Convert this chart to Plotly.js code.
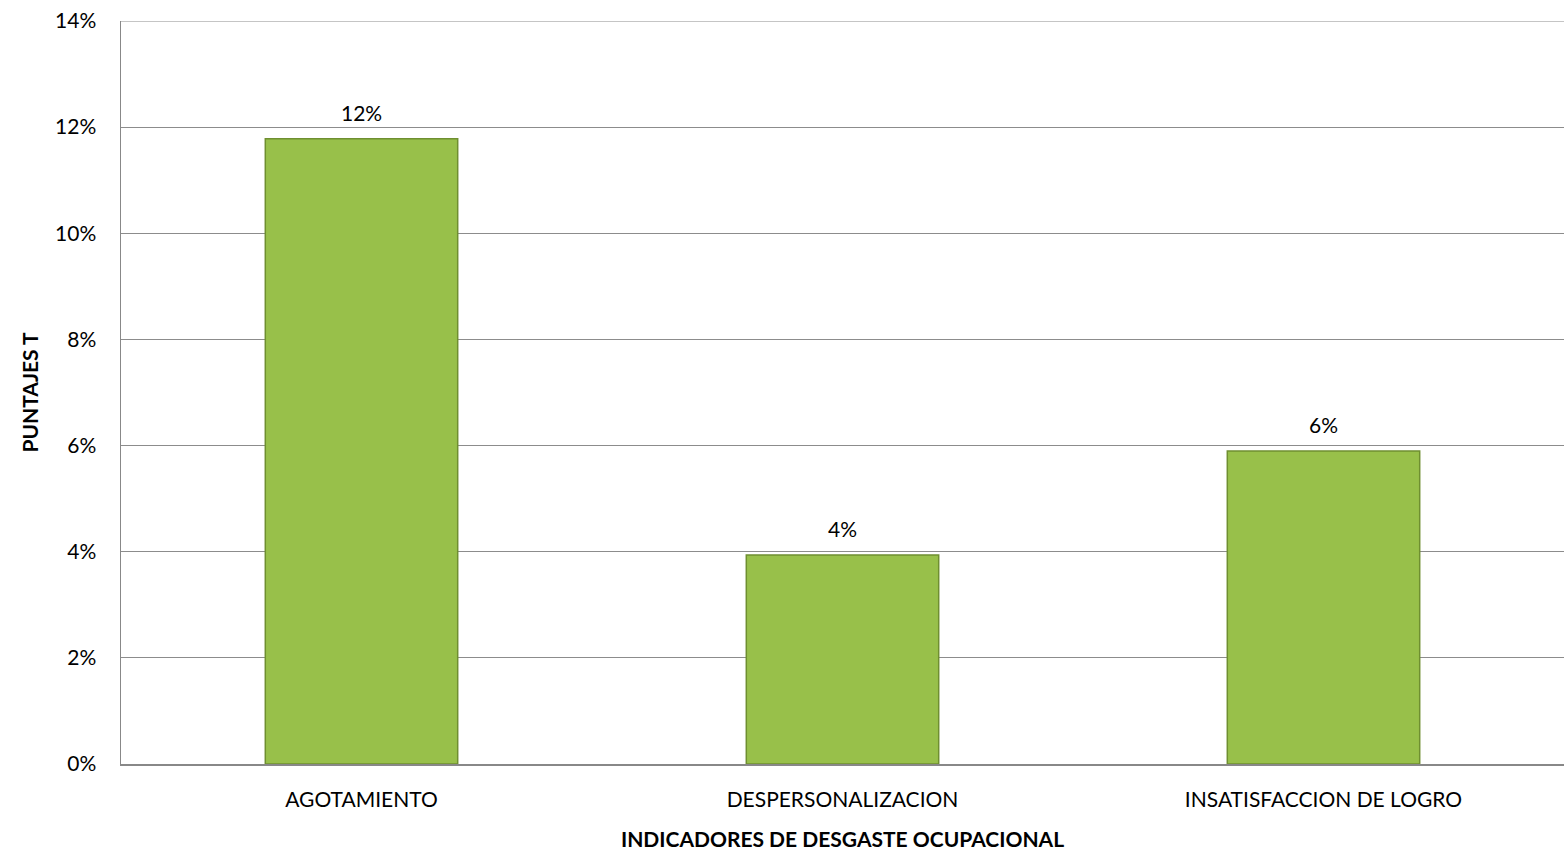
<!DOCTYPE html>
<html>
<head>
<meta charset="utf-8">
<script src="https://cdn.plot.ly/plotly-3.0.1.min.js"></script>
<style>html,body{margin:0;padding:0;background:#fff;}#chart{width:1564px;height:853px;}</style>
</head>
<body>
<div id="chart"></div>
<script>
const categories = ["AGOTAMIENTO", "DESPERSONALIZACION", "INSATISFACCION DE LOGRO"];
const values = [0.1178, 0.0394, 0.0590];
const yTickVals = [0, 0.02, 0.04, 0.06, 0.08, 0.10, 0.12, 0.14];
const yTickText = ["0%", "2%", "4%", "6%", "8%", "10%", "12%", "14%"];
const xTitle = "INDICADORES DE DESGASTE OCUPACIONAL";
const yTitle = "PUNTAJES T";

const font = "Lato, 'Open Sans', sans-serif";
const fs = 21;

const trace = {
  type: "bar",
  x: categories,
  y: values,
  marker: {color: "#98c04a", line: {color: "#6f8f30", width: 1.5}},
  hoverinfo: "skip"
};

const annotations = categories.map((c, i) => ({
  x: c, y: values[i], xref: "x", yref: "y",
  text: Math.round(values[i] * 100) + "%",
  showarrow: false, yanchor: "bottom", yshift: 12,
  font: {family: font, size: fs, color: "#000"}
}));

const layout = {
  width: 1564, height: 853,
  margin: {l: 121, r: 0, t: 21, b: 89},
  paper_bgcolor: "#fff", plot_bgcolor: "#fff",
  bargap: 0.6,
  showlegend: false,
  font: {family: font, size: fs, color: "#000"},
  annotations: annotations,
  shapes: [{type: "line", xref: "paper", yref: "y", x0: 0, x1: 1, y0: 0.14, y1: 0.14,
            line: {color: "#8c8c8c", width: 1.2}}],
  xaxis: {
    showgrid: false, showline: true, linecolor: "#888", linewidth: 1.5,
    ticks: "", tickfont: {size: fs}, ticklabelstandoff: 16,
    title: {text: "<b>" + xTitle + "</b>", font: {size: fs}, standoff: 22}
  },
  yaxis: {
    range: [0, 0.14], tickvals: yTickVals, ticktext: yTickText,
    showgrid: true, gridcolor: "#8c8c8c", gridwidth: 1.2,
    showline: true, linecolor: "#888", linewidth: 1.5,
    zeroline: false, ticks: "", tickfont: {size: fs}, ticklabelstandoff: 19,
    title: {text: "<b>" + yTitle + "</b>", font: {size: fs}, standoff: 10}
  }
};

Plotly.newPlot("chart", [trace], layout, {displayModeBar: false, staticPlot: true});
</script>
</body>
</html>
